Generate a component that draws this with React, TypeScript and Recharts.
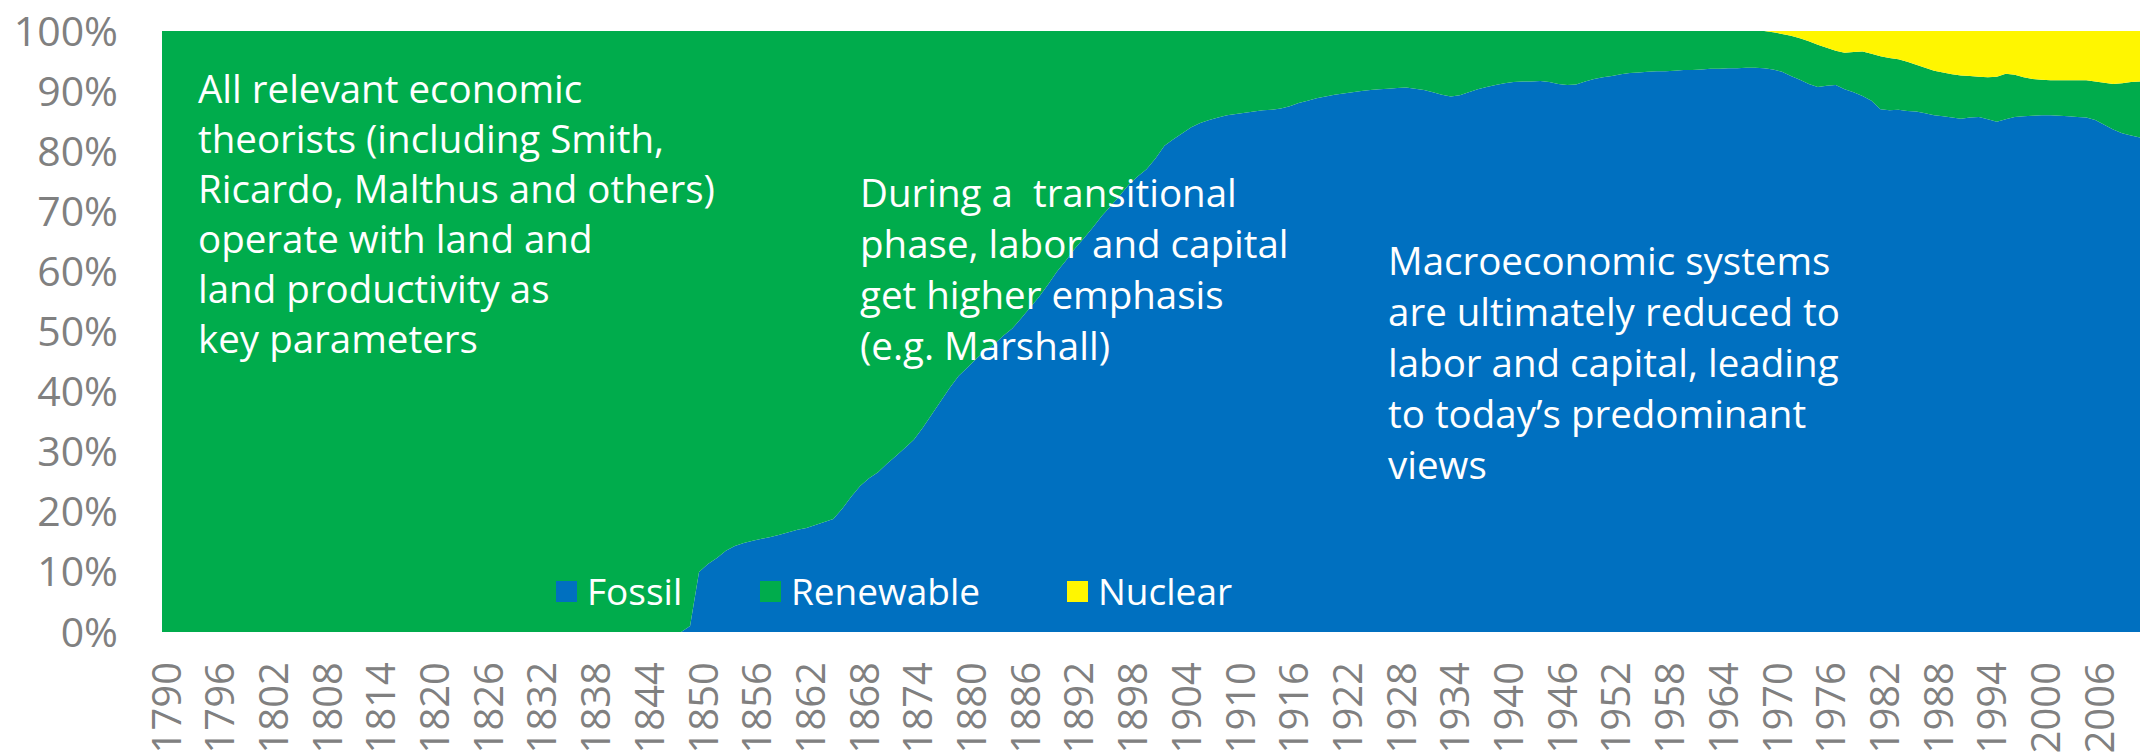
import { AreaChart, Area, XAxis, YAxis } from "recharts";

// shares in % of primary energy
const firstYear = 1790;
const lastYear = 2011;
const years = Array.from({ length: lastYear - firstYear + 1 }, (_, i) => firstYear + i);

const fossilStart = 1849;
const fossilShare = [
  1, 10, 11.3, 12.3, 13.5, 14.3, 14.8, 15.2, 15.5, 15.8, 16.2,
  16.6, 17, 17.3, 17.8, 18.3, 18.8, 20.5, 22.5, 24.3, 25.6,
  26.6, 28, 29.3, 30.6, 32, 34, 36.2, 38.4, 40.6, 42.6,
  44, 45.5, 46.8, 47.9, 49.3, 50.5, 52.2, 54, 55.8, 57.8,
  60, 61.8, 63.8, 65.5, 67.3, 69.2, 70.9, 72.6, 74.4, 75.8,
  77, 78.8, 80.9, 82, 83, 84, 84.7, 85.2, 85.6, 86,
  86.2, 86.4, 86.6, 86.8, 86.9, 87.1, 87.5, 88, 88.4, 88.8,
  89.1, 89.4, 89.6, 89.8, 90, 90.2, 90.3, 90.4, 90.5, 90.6,
  90.4, 90.2, 89.8, 89.4, 89.1, 89.3, 89.8, 90.3, 90.7, 91,
  91.3, 91.5, 91.6, 91.6, 91.7, 91.5, 91.2, 91, 91.1, 91.6,
  92, 92.3, 92.5, 92.8, 93, 93.1, 93.2, 93.3, 93.3, 93.4,
  93.5, 93.5, 93.6, 93.7, 93.7, 93.8, 93.8, 93.9, 93.9, 93.8,
  93.6, 93.2, 92.5, 91.9, 91.2, 90.7, 90.9, 91, 90.3, 89.8,
  89.2, 88.4, 87, 86.8, 86.9, 86.7, 86.6, 86.3, 86, 85.8,
  85.6, 85.4, 85.6, 85.7, 85.3, 84.9, 85.3, 85.7, 85.8, 85.9,
  86, 86, 85.9, 85.8, 85.7, 85.6, 85.2, 84.4, 83.6, 83,
  82.6, 82.3,
];

const nuclearStart = 1970;
const nuclearShare = [
  0.2, 0.5, 0.8, 1.2, 1.7, 2.3, 2.8, 3.3, 3.6, 3.5,
  3.4, 3.8, 4.2, 4.5, 4.7, 5.1, 5.6, 6.1, 6.6, 6.9,
  7.2, 7.4, 7.5, 7.6, 7.7, 7.6, 7.1, 7.3, 7.7, 8,
  8.1, 8.2, 8.2, 8.2, 8.2, 8.2, 8.4, 8.6, 8.8, 8.7,
  8.5, 8.4,
];

const yTicks = [0, 10, 20, 30, 40, 50, 60, 70, 80, 90, 100];
const xTicks = [
  1790, 1796, 1802, 1808, 1814, 1820, 1826, 1832, 1838, 1844, 1850, 1856, 1862,
  1868, 1874, 1880, 1886, 1892, 1898, 1904, 1910, 1916, 1922, 1928, 1934, 1940,
  1946, 1952, 1958, 1964, 1970, 1976, 1982, 1988, 1994, 2000, 2006,
];

const series = [
  { key: "fossil", name: "Fossil", color: "#0070C0" },
  { key: "renewable", name: "Renewable", color: "#00AC4C" },
  { key: "nuclear", name: "Nuclear", color: "#FFF600" },
];

const data = years.map((year) => {
  const fossil = year >= fossilStart ? fossilShare[year - fossilStart] : 0;
  const nuclear = year >= nuclearStart ? nuclearShare[year - nuclearStart] : 0;
  // renewables fill the rest of the 100%
  return { year, fossil, nuclear, renewable: 100 - fossil - nuclear };
});

const FONT = "'Open Sans', sans-serif";
const GREY = "#808080";

const XTick = ({ x, y, payload }: any) => {
  const ty = y + 22;
  return (
    <text
      x={x + 3}
      y={ty}
      transform={`rotate(-90, ${x + 3}, ${ty})`}
      textAnchor="end"
      dominantBaseline="central"
      fill={GREY}
      fontSize={40}
      fontFamily={FONT}
    >
      {payload.value}
    </text>
  );
};

// each legend entry gets a fixed slot so the swatches line up with the reference
const legendWidths = [204, 307, 200];

const noteStyle: React.CSSProperties = {
  position: "absolute",
  color: "#ffffff",
  fontFamily: FONT,
  fontSize: 38.5,
  lineHeight: "50px",
  whiteSpace: "pre",
  pointerEvents: "none",
};

export default function App() {
  return (
    <div style={{ position: "absolute", left: 0, top: 0, width: 2147, height: 755, background: "#fff", overflow: "hidden" }}>
      <AreaChart width={2147} height={755} data={data} margin={{ top: 31, right: 7, bottom: 0, left: 0 }}>
        <XAxis
          dataKey="year"
          type="number"
          domain={[firstYear, lastYear]}
          ticks={xTicks}
          interval={0}
          height={123}
          tick={<XTick />}
          tickLine={false}
          axisLine={false}
        />
        <YAxis
          type="number"
          domain={[0, 100]}
          ticks={yTicks}
          width={162}
          tickFormatter={(v) => `${v}%`}
          tick={{ fill: GREY, fontSize: 41, fontFamily: FONT }}
          tickSize={0}
          tickMargin={44}
          tickLine={false}
          axisLine={false}
        />
        {series.map((s) => (
          <Area
            key={s.key}
            dataKey={s.key}
            name={s.name}
            stackId="share"
            type="linear"
            stroke="none"
            fill={s.color}
            fillOpacity={1}
            isAnimationActive={false}
          />
        ))}
      </AreaChart>

      {/* legend sits inside the plot, near the bottom */}
      <div style={{ position: "absolute", left: 556, top: 566, display: "flex", alignItems: "center" }}>
        {series.map((s, i) => (
          <div key={s.key} style={{ display: "flex", alignItems: "center", width: legendWidths[i] }}>
            <span style={{ width: 21, height: 21, background: s.color, marginRight: 10 }} />
            <span style={{ color: "#fff", fontSize: 37, fontFamily: FONT, lineHeight: "50px" }}>{s.name}</span>
          </div>
        ))}
      </div>

      <div style={{ ...noteStyle, left: 198, top: 63 }}>
        {"All relevant economic\ntheorists (including Smith,\nRicardo, Malthus and others)\noperate with land and\nland productivity as\nkey parameters"}
      </div>
      <div style={{ ...noteStyle, left: 860, top: 167, lineHeight: "51px" }}>
        {"During a  transitional\nphase, labor and capital\nget higher emphasis\n(e.g. Marshall)"}
      </div>
      <div style={{ ...noteStyle, left: 1388, top: 235, lineHeight: "51px" }}>
        {"Macroeconomic systems\nare ultimately reduced to\nlabor and capital, leading\nto today\u2019s predominant\nviews"}
      </div>
    </div>
  );
}
